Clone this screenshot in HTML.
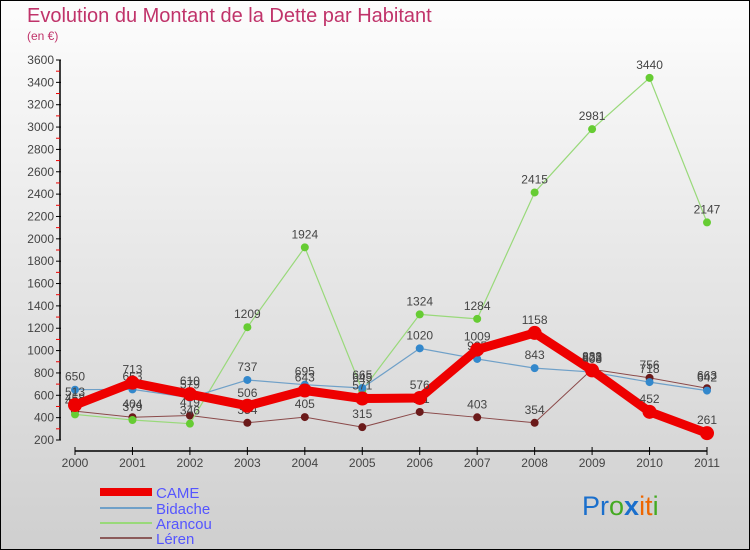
<!DOCTYPE html>
<html><head><meta charset="utf-8"><style>
body{margin:0;width:750px;height:550px;overflow:hidden}
svg{display:block;font-family:"Liberation Sans",sans-serif}
</style></head><body>
<svg id="c" width="750" height="550" xmlns="http://www.w3.org/2000/svg">
<defs><linearGradient id="bg" x1="0" y1="0" x2="0" y2="1"><stop offset="0" stop-color="#fdfdfd"/><stop offset="1" stop-color="#cfcfcf"/></linearGradient></defs>
<rect x="0.5" y="0.5" width="749" height="549" fill="url(#bg)" stroke="#000"/>
<text x="27" y="22" font-size="20" fill="#c0336a">Evolution du Montant de la Dette par Habitant</text>
<text x="27" y="40" font-size="12" fill="#c0336a">(en €)</text>
<g id="axes"></g><g id="series"></g>
<g>
<rect x="100" y="488" width="52" height="8" fill="#ee0000"/>
<text x="156" y="498" font-size="15" fill="#5555ff">CAME</text>
<rect x="100" y="507" width="52" height="2" fill="#6fa0c8"/>
<text x="156" y="514" font-size="15" fill="#5555ff">Bidache</text>
<rect x="100" y="522" width="52" height="2" fill="#99d97a"/>
<text x="156" y="529" font-size="15" fill="#5555ff">Arancou</text>
<rect x="100" y="537" width="52" height="2" fill="#8b5a5a"/>
<text x="156" y="544" font-size="15" fill="#5555ff">Léren</text>
</g>
<g font-size="27" font-family="'Liberation Sans',sans-serif">
<text x="582" y="515"><tspan fill="#1a6fcc">Pr</tspan><tspan fill="#44aa22">o</tspan><tspan fill="#1a6fcc" font-weight="bold">x</tspan><tspan fill="#ee6600">it</tspan><tspan fill="#44aa22">i</tspan></text>
</g>
</svg>
<script>
const years=["2000","2001","2002","2003","2004","2005","2006","2007","2008","2009","2010","2011"];
const came=[513,713,610,506,643,571,576,1009,1158,823,452,261];
const bidache=[650,653,579,737,695,665,1020,925,843,808,718,642];
const arancou=[429,379,346,1209,1924,645,1324,1284,2415,2981,3440,2147];
const leren=[458,404,419,354,405,315,451,403,354,833,756,663];
const yTicks=[200,400,600,800,1000,1200,1400,1600,1800,2000,2200,2400,2600,2800,3000,3200,3400,3600];
const NS="http://www.w3.org/2000/svg";
const X=i=>75+i*(707-75)/11;
const Y=v=>440-(v-200)*(380/3400);
function mk(t,a,p){const e=document.createElementNS(NS,t);for(const k in a)e.setAttribute(k,a[k]);p.appendChild(e);return e;}
const ax=document.getElementById('axes');
const yl=mk('line',{x1:60,y1:60,x2:60,y2:440,stroke:'#000','stroke-width':1.5},ax);


const xl=mk('line',{x1:75,y1:451,x2:707,y2:451,stroke:'#000','stroke-width':1.5},ax);


yTicks.forEach((v,i)=>{
  mk('line',{x1:56,y1:Y(v),x2:61,y2:Y(v),stroke:'#000'},ax);
  if(i<yTicks.length-1)mk('line',{x1:56,y1:Y(v+100),x2:60,y2:Y(v+100),stroke:'#e00'},ax);
  const t=mk('text',{x:54,y:Y(v)+4,'font-size':12,'text-anchor':'end',fill:'#444'},ax);t.textContent=v;
  
  
});
years.forEach((y,i)=>{
  mk('line',{x1:X(i),y1:447,x2:X(i),y2:455,stroke:'#000'},ax);
  const t=mk('text',{x:X(i),y:467,'font-size':12,'text-anchor':'middle',fill:'#444'},ax);t.textContent=y;
  
  
});
const sg=document.getElementById('series');
function series(d,name,col,w,r,dot){
  const g=mk('g',{},sg);
  
  
  mk('polyline',{points:d.map((v,i)=>X(i)+','+Y(v)).join(' '),fill:'none',stroke:col,'stroke-width':w,'stroke-linejoin':'round'},g);
  d.forEach((v,i)=>{
    const c=mk('circle',{cx:X(i),cy:Y(v),r:r,fill:dot},g);
    
    
    const t=mk('text',{x:X(i),y:Y(v)-9,'font-size':12,'text-anchor':'middle',fill:'#444'},g);t.textContent=v;
  });
}
series(leren,'leren','#8b4a4a',1,4,'#6b1a1a');
series(arancou,'arancou','#99d97a',1.2,4,'#66cc33');
series(bidache,'bidache','#6fa0c8',1.2,4,'#3388cc');
series(came,'came','#ee0000',9,7,'#ee0000');
</script>
</body></html>
